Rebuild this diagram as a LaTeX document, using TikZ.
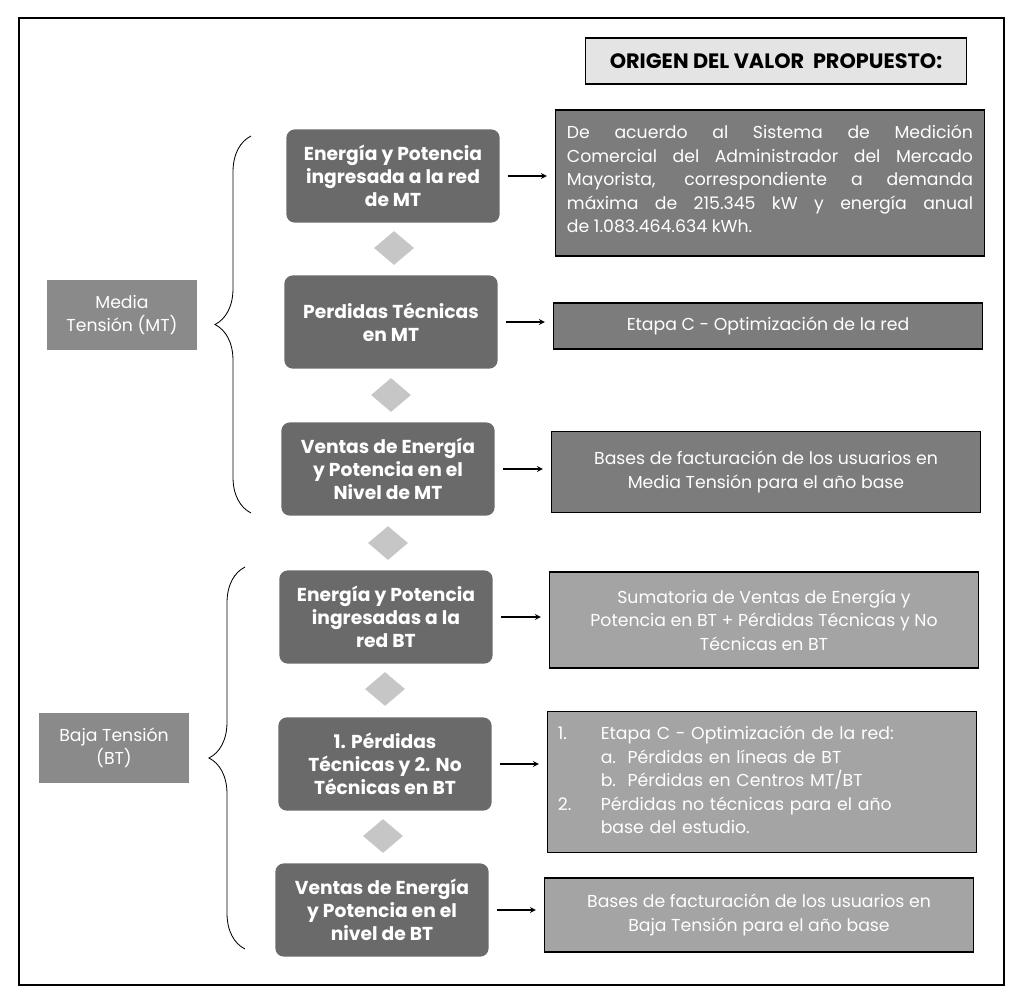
\documentclass[tikz,border=0pt]{standalone}
\usepackage{fontspec}
\setmainfont{Poppins}
\usetikzlibrary{shapes.geometric,decorations.pathreplacing}
\definecolor{boxdark}{HTML}{6A6A6A}
\definecolor{boxmid}{HTML}{7C7C7C}
\definecolor{boxlight}{HTML}{A4A4A4}
\definecolor{tagfill}{HTML}{8A8A8A}
\definecolor{gemfill}{HTML}{C6C6C6}
\definecolor{headfill}{HTML}{E4E4E4}
\newcommand{\boxfont}{\bfseries\fontsize{13.3}{16.5}\selectfont}
\newcommand{\txtfont}{\fontsize{12.3}{16.7}\selectfont}
\tikzset{
  lbox/.style={rounded corners=6pt, fill=boxdark, text=white, font=\boxfont, align=center,
    minimum width=5.33cm, minimum height=2.33cm, inner sep=1pt},
  rbox/.style={draw=black, line width=0.9pt, text=white, font=\txtfont, align=center,
    minimum width=10.72cm, inner sep=1pt},
  tag/.style={fill=tagfill, text=white, font=\txtfont, align=center,
    minimum width=3.75cm, minimum height=1.77cm, inner sep=1pt},
  gem/.style={diamond, fill=gemfill, minimum width=1cm, minimum height=0.85cm, inner sep=0pt},
  head/.style={draw=black, line width=1pt, fill=headfill, font=\bfseries\fontsize{14.8}{16}\selectfont,
    minimum width=9.52cm, minimum height=1.15cm},
  arr/.style={->, >=stealth, line width=0.9pt, shorten <=0.2cm, shorten >=0.2cm},
  brc/.style={decorate, decoration={brace, amplitude=0.9cm}, line width=0.6pt}
}

\begin{document}
\begin{tikzpicture}[x=0.025cm, y=-0.025cm]
\useasboundingbox (0,0) rectangle (1024,1002);
\draw[line width=1.1pt] (19,18) rectangle (1004,985);
\node[head] (hd) at (776,61) {ORIGEN DEL VALOR\ \ PROPUESTO:};

\node[tag] (mt) at (122,315) {Media\\Tensión (MT)};
\node[tag] (bt) at (114,748) {Baja Tensión\\(BT)};
\coordinate (mtb) at (251,513);
\coordinate (mtt) at (251,136);
\coordinate (btb) at (245,949);
\coordinate (btt) at (245,567);
\draw[brc] (mtb) -- (mtt);
\draw[brc] (btb) -- (btt);

\node[lbox] (b1) at (393,176) {Energía y Potencia\\ingresada a la red\\de MT};
\node[lbox] (b2) at (391,322) {Perdidas Técnicas\\en MT};
\node[lbox] (b3) at (388,469) {Ventas de Energía\\y Potencia en el\\Nivel de MT};
\node[lbox] (b4) at (386,617) {Energía y Potencia\\ingresadas a la\\red BT};
\node[lbox] (b5) at (385,764) {1. Pérdidas\\Técnicas y 2. No\\Técnicas en BT};
\node[lbox] (b6) at (382,910) {Ventas de Energía\\y Potencia en el\\nivel de BT};

\node[gem] (g1) at (394,248) {};
\node[gem] (g2) at (391,395) {};
\node[gem] (g3) at (388,543) {};
\node[gem] (g4) at (385,689) {};
\node[gem] (g5) at (383,836) {};

\node[rbox, fill=boxmid, minimum height=3.65cm, text width=10.15cm, align=justify] (r1) at (770,183)
  {De acuerdo al Sistema de Medición\linebreak
   Comercial del Administrador del Mercado\linebreak
   Mayorista, correspondiente a demanda\linebreak
   máxima de 215.345 kW y energía anual\linebreak
   de 1.083.464.634 kWh.\par\vspace{0.2cm}};
\node[rbox, fill=boxmid, minimum height=1.15cm] (r2) at (768,326) {Etapa C - Optimización de la red};
\node[rbox, fill=boxmid, minimum height=2.03cm] (r3) at (766,472)
  {Bases de facturación de los usuarios en\\Media Tensión para el año base};
\node[rbox, fill=boxlight, minimum height=2.4cm] (r4) at (764,620)
  {Sumatoria de Ventas de Energía y\\Potencia en BT + Pérdidas Técnicas y No\\Técnicas en BT};
\node[rbox, fill=boxlight, minimum height=3.53cm, text width=10.2cm, align=left] (r5) at (762,782)
  {\begin{tabular}{@{}p{1.07cm}@{}l@{}}
   1. & Etapa C - Optimización de la red:\\
      & a.\ \ Pérdidas en líneas de BT\\
      & b.\ \ Pérdidas en Centros MT/BT\\
   2. & Pérdidas no técnicas para el año\\
      & base del estudio.
   \end{tabular}};
\node[rbox, fill=boxlight, minimum height=1.85cm] (r6) at (759,915)
  {Bases de facturación de los usuarios en\\Baja Tensión para el año base};

\foreach \i in {1,...,6}
  \draw[arr] (b\i.east) -- (b\i.east -| r\i.west);
\end{tikzpicture}
\end{document}
